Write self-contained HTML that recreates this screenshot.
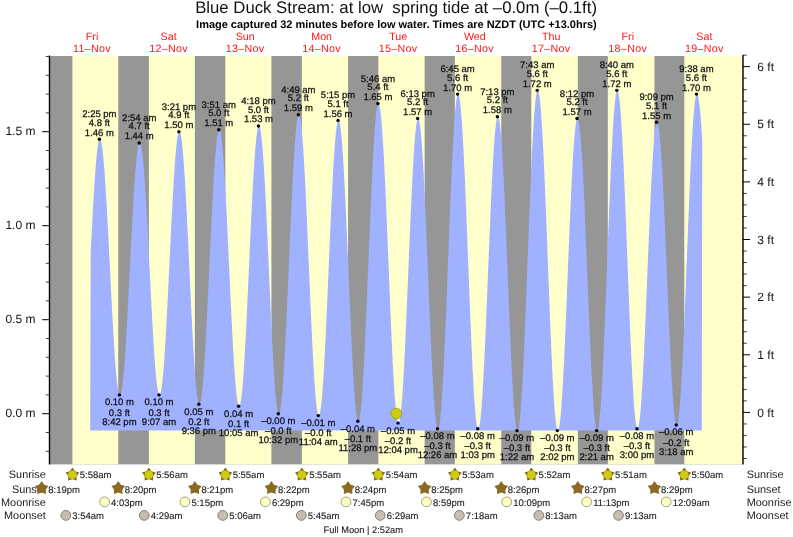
<!DOCTYPE html>
<html><head><meta charset="utf-8"><title>Blue Duck Stream tide times</title>
<style>
html,body{margin:0;padding:0;background:#fff;}
body{width:793px;height:537px;overflow:hidden;font-family:"Liberation Sans",sans-serif;}
svg{display:block;position:absolute;left:0;top:0;}
text{font-family:"Liberation Sans",sans-serif;text-rendering:geometricPrecision;}
svg{will-change:transform;opacity:0.9999;}
</style></head><body>
<svg width="793" height="537" viewBox="0 0 793 537">
<rect width="793" height="537" fill="#fff"/>
<rect x="50" y="56" width="692.3" height="408.4" fill="#969696"/>
<rect x="72.43" y="56" width="45.82" height="408.4" fill="#ffffcc"/>
<rect x="148.86" y="56" width="45.97" height="408.4" fill="#ffffcc"/>
<rect x="225.34" y="56" width="46.08" height="408.4" fill="#ffffcc"/>
<rect x="301.88" y="56" width="46.19" height="408.4" fill="#ffffcc"/>
<rect x="378.36" y="56" width="46.29" height="408.4" fill="#ffffcc"/>
<rect x="454.84" y="56" width="46.40" height="408.4" fill="#ffffcc"/>
<rect x="531.32" y="56" width="46.51" height="408.4" fill="#ffffcc"/>
<rect x="607.81" y="56" width="46.67" height="408.4" fill="#ffffcc"/>
<rect x="684.29" y="56" width="58.01" height="408.4" fill="#ffffcc"/>
<path d="M90.18,430.60 L90.68,253.29 L91.06,245.62 L91.44,238.03 L91.83,230.54 L92.21,223.18 L92.59,215.97 L92.97,208.95 L93.35,202.15 L93.74,195.58 L94.12,189.27 L94.50,183.25 L94.88,177.54 L95.27,172.16 L95.65,167.12 L96.03,162.46 L96.41,158.18 L96.79,154.31 L97.18,150.85 L97.56,147.82 L97.94,145.24 L98.32,143.11 L98.71,141.43 L99.09,140.22 L99.47,139.49 L99.85,139.22 L100.23,139.42 L100.62,140.08 L101.00,141.20 L101.38,142.77 L101.76,144.79 L102.15,147.24 L102.53,150.12 L102.91,153.43 L103.29,157.14 L103.67,161.25 L104.06,165.73 L104.44,170.59 L104.82,175.78 L105.20,181.31 L105.59,187.14 L105.97,193.26 L106.35,199.64 L106.73,206.27 L107.12,213.12 L107.50,220.15 L107.88,227.36 L108.26,234.71 L108.64,242.18 L109.03,249.73 L109.41,257.35 L109.79,265.00 L110.17,272.66 L110.56,280.30 L110.94,287.89 L111.32,295.41 L111.70,302.82 L112.08,310.11 L112.47,317.24 L112.85,324.20 L113.23,330.94 L113.61,337.46 L114.00,343.73 L114.38,349.72 L114.76,355.41 L115.14,360.78 L115.52,365.82 L115.91,370.51 L116.29,374.82 L116.67,378.75 L117.05,382.27 L117.44,385.38 L117.82,388.07 L118.20,390.32 L118.58,392.13 L118.96,393.49 L119.35,394.40 L119.73,394.85 L120.11,394.84 L120.49,394.36 L120.88,393.43 L121.26,392.03 L121.64,390.18 L122.02,387.89 L122.40,385.15 L122.79,381.99 L123.17,378.41 L123.55,374.42 L123.93,370.05 L124.32,365.30 L124.70,360.20 L125.08,354.76 L125.46,349.01 L125.84,342.96 L126.23,336.64 L126.61,330.06 L126.99,323.27 L127.37,316.27 L127.76,309.10 L128.14,301.78 L128.52,294.33 L128.90,286.80 L129.29,279.20 L129.67,271.56 L130.05,263.91 L130.43,256.28 L130.81,248.70 L131.20,241.19 L131.58,233.78 L131.96,226.50 L132.34,219.38 L132.73,212.45 L133.11,205.72 L133.49,199.22 L133.87,192.98 L134.25,187.02 L134.64,181.37 L135.02,176.03 L135.40,171.04 L135.78,166.41 L136.17,162.16 L136.55,158.30 L136.93,154.85 L137.31,151.82 L137.69,149.22 L138.08,147.07 L138.46,145.36 L138.84,144.11 L139.22,143.32 L139.61,142.99 L139.99,143.13 L140.37,143.72 L140.75,144.78 L141.13,146.29 L141.52,148.26 L141.90,150.66 L142.28,153.50 L142.66,156.76 L143.05,160.43 L143.43,164.51 L143.81,168.96 L144.19,173.78 L144.57,178.95 L144.96,184.45 L145.34,190.26 L145.72,196.36 L146.10,202.73 L146.49,209.34 L146.87,216.16 L147.25,223.18 L147.63,230.37 L148.01,237.70 L148.40,245.14 L148.78,252.68 L149.16,260.27 L149.54,267.89 L149.93,275.52 L150.31,283.12 L150.69,290.67 L151.07,298.14 L151.46,305.50 L151.84,312.73 L152.22,319.80 L152.60,326.68 L152.98,333.36 L153.37,339.79 L153.75,345.96 L154.13,351.86 L154.51,357.44 L154.90,362.71 L155.28,367.63 L155.66,372.18 L156.04,376.36 L156.42,380.15 L156.81,383.52 L157.19,386.48 L157.57,389.01 L157.95,391.09 L158.34,392.73 L158.72,393.91 L159.10,394.64 L159.48,394.90 L159.86,394.69 L160.25,394.01 L160.63,392.84 L161.01,391.21 L161.39,389.11 L161.78,386.55 L162.16,383.54 L162.54,380.09 L162.92,376.21 L163.30,371.92 L163.69,367.24 L164.07,362.18 L164.45,356.75 L164.83,350.99 L165.22,344.91 L165.60,338.52 L165.98,331.87 L166.36,324.96 L166.74,317.83 L167.13,310.50 L167.51,303.00 L167.89,295.35 L168.27,287.58 L168.66,279.73 L169.04,271.82 L169.42,263.87 L169.80,255.93 L170.18,248.01 L170.57,240.15 L170.95,232.37 L171.33,224.70 L171.71,217.17 L172.10,209.82 L172.48,202.66 L172.86,195.72 L173.24,189.02 L173.63,182.60 L174.01,176.47 L174.39,170.66 L174.77,165.18 L175.15,160.07 L175.54,155.33 L175.92,150.98 L176.30,147.05 L176.68,143.54 L177.07,140.46 L177.45,137.83 L177.83,135.67 L178.21,133.96 L178.59,132.73 L178.98,131.98 L179.36,131.70 L179.74,131.91 L180.12,132.62 L180.51,133.81 L180.89,135.49 L181.27,137.66 L181.65,140.29 L182.03,143.39 L182.42,146.95 L182.80,150.94 L183.18,155.35 L183.56,160.18 L183.95,165.40 L184.33,170.98 L184.71,176.93 L185.09,183.20 L185.47,189.78 L185.86,196.64 L186.24,203.76 L186.62,211.11 L187.00,218.68 L187.39,226.42 L187.77,234.31 L188.15,242.32 L188.53,250.43 L188.91,258.60 L189.30,266.80 L189.68,275.01 L190.06,283.20 L190.44,291.32 L190.83,299.37 L191.21,307.30 L191.59,315.08 L191.97,322.70 L192.35,330.12 L192.74,337.31 L193.12,344.25 L193.50,350.92 L193.88,357.28 L194.27,363.32 L194.65,369.01 L195.03,374.34 L195.41,379.28 L195.80,383.82 L196.18,387.93 L196.56,391.62 L196.94,394.85 L197.32,397.62 L197.71,399.92 L198.09,401.75 L198.47,403.09 L198.85,403.93 L199.24,404.29 L199.62,404.15 L200.00,403.51 L200.38,402.38 L200.76,400.75 L201.15,398.64 L201.53,396.05 L201.91,393.00 L202.29,389.49 L202.68,385.53 L203.06,381.14 L203.44,376.34 L203.82,371.15 L204.20,365.57 L204.59,359.64 L204.97,353.37 L205.35,346.79 L205.73,339.92 L206.12,332.78 L206.50,325.41 L206.88,317.83 L207.26,310.06 L207.64,302.13 L208.03,294.08 L208.41,285.93 L208.79,277.71 L209.17,269.45 L209.56,261.18 L209.94,252.94 L210.32,244.74 L210.70,236.63 L211.08,228.63 L211.47,220.76 L211.85,213.07 L212.23,205.57 L212.61,198.29 L213.00,191.27 L213.38,184.51 L213.76,178.06 L214.14,171.93 L214.52,166.15 L214.91,160.73 L215.29,155.70 L215.67,151.07 L216.05,146.87 L216.44,143.09 L216.82,139.77 L217.20,136.92 L217.58,134.53 L217.97,132.62 L218.35,131.21 L218.73,130.28 L219.11,129.85 L219.49,129.92 L219.88,130.50 L220.26,131.57 L220.64,133.15 L221.02,135.21 L221.41,137.76 L221.79,140.79 L222.17,144.28 L222.55,148.22 L222.93,152.59 L223.32,157.39 L223.70,162.60 L224.08,168.18 L224.46,174.13 L224.85,180.43 L225.23,187.04 L225.61,193.95 L225.99,201.13 L226.37,208.55 L226.76,216.19 L227.14,224.02 L227.52,232.00 L227.90,240.12 L228.29,248.35 L228.67,256.64 L229.05,264.97 L229.43,273.32 L229.81,281.65 L230.20,289.92 L230.58,298.12 L230.96,306.21 L231.34,314.16 L231.73,321.93 L232.11,329.52 L232.49,336.87 L232.87,343.98 L233.25,350.81 L233.64,357.34 L234.02,363.54 L234.40,369.39 L234.78,374.88 L235.17,379.97 L235.55,384.65 L235.93,388.91 L236.31,392.73 L236.69,396.09 L237.08,398.99 L237.46,401.40 L237.84,403.34 L238.22,404.77 L238.61,405.71 L238.99,406.15 L239.37,406.08 L239.75,405.49 L240.14,404.40 L240.52,402.80 L240.90,400.69 L241.28,398.10 L241.66,395.02 L242.05,391.46 L242.43,387.45 L242.81,382.99 L243.19,378.11 L243.58,372.81 L243.96,367.12 L244.34,361.06 L244.72,354.65 L245.10,347.92 L245.49,340.89 L245.87,333.58 L246.25,326.03 L246.63,318.26 L247.02,310.29 L247.40,302.16 L247.78,293.90 L248.16,285.54 L248.54,277.11 L248.93,268.64 L249.31,260.16 L249.69,251.70 L250.07,243.29 L250.46,234.97 L250.84,226.76 L251.22,218.69 L251.60,210.80 L251.98,203.11 L252.37,195.66 L252.75,188.46 L253.13,181.55 L253.51,174.94 L253.90,168.67 L254.28,162.76 L254.66,157.23 L255.04,152.10 L255.42,147.38 L255.81,143.10 L256.19,139.28 L256.57,135.91 L256.95,133.03 L257.34,130.63 L257.72,128.73 L258.10,127.34 L258.48,126.45 L258.87,126.07 L259.25,126.22 L259.63,126.88 L260.01,128.07 L260.39,129.77 L260.78,131.99 L261.16,134.71 L261.54,137.92 L261.92,141.62 L262.31,145.78 L262.69,150.39 L263.07,155.44 L263.45,160.91 L263.83,166.78 L264.22,173.02 L264.60,179.62 L264.98,186.54 L265.36,193.77 L265.75,201.27 L266.13,209.03 L266.51,217.01 L266.89,225.18 L267.27,233.52 L267.66,241.98 L268.04,250.55 L268.42,259.19 L268.80,267.87 L269.19,276.55 L269.57,285.22 L269.95,293.82 L270.33,302.34 L270.71,310.74 L271.10,318.99 L271.48,327.06 L271.86,334.92 L272.24,342.55 L272.63,349.91 L273.01,356.98 L273.39,363.73 L273.77,370.14 L274.15,376.18 L274.54,381.84 L274.92,387.08 L275.30,391.90 L275.68,396.27 L276.07,400.19 L276.45,403.62 L276.83,406.57 L277.21,409.02 L277.59,410.96 L277.98,412.39 L278.36,413.30 L278.74,413.69 L279.12,413.54 L279.51,412.86 L279.89,411.65 L280.27,409.91 L280.65,407.64 L281.04,404.86 L281.42,401.58 L281.80,397.80 L282.18,393.54 L282.56,388.82 L282.95,383.65 L283.33,378.05 L283.71,372.05 L284.09,365.65 L284.48,358.90 L284.86,351.80 L285.24,344.39 L285.62,336.69 L286.00,328.73 L286.39,320.54 L286.77,312.14 L287.15,303.58 L287.53,294.87 L287.92,286.05 L288.30,277.16 L288.68,268.22 L289.06,259.26 L289.44,250.32 L289.83,241.44 L290.21,232.63 L290.59,223.94 L290.97,215.39 L291.36,207.02 L291.74,198.85 L292.12,190.92 L292.50,183.25 L292.88,175.87 L293.27,168.81 L293.65,162.09 L294.03,155.74 L294.41,149.78 L294.80,144.23 L295.18,139.11 L295.56,134.44 L295.94,130.23 L296.32,126.51 L296.71,123.28 L297.09,120.56 L297.47,118.35 L297.85,116.67 L298.24,115.51 L298.62,114.90 L299.00,114.81 L299.38,115.27 L299.76,116.28 L300.15,117.82 L300.53,119.91 L300.91,122.51 L301.29,125.64 L301.68,129.27 L302.06,133.39 L302.44,138.00 L302.82,143.06 L303.21,148.57 L303.59,154.50 L303.97,160.83 L304.35,167.54 L304.73,174.61 L305.12,182.00 L305.50,189.70 L305.88,197.67 L306.26,205.89 L306.65,214.32 L307.03,222.93 L307.41,231.70 L307.79,240.59 L308.17,249.57 L308.56,258.60 L308.94,267.66 L309.32,276.71 L309.70,285.72 L310.09,294.65 L310.47,303.48 L310.85,312.17 L311.23,320.69 L311.61,329.00 L312.00,337.09 L312.38,344.91 L312.76,352.44 L313.14,359.66 L313.53,366.54 L313.91,373.04 L314.29,379.16 L314.67,384.86 L315.05,390.13 L315.44,394.94 L315.82,399.28 L316.20,403.14 L316.58,406.50 L316.97,409.34 L317.35,411.66 L317.73,413.45 L318.11,414.70 L318.49,415.41 L318.88,415.57 L319.26,415.18 L319.64,414.25 L320.02,412.78 L320.41,410.77 L320.79,408.24 L321.17,405.18 L321.55,401.61 L321.93,397.55 L322.32,393.01 L322.70,388.00 L323.08,382.55 L323.46,376.67 L323.85,370.40 L324.23,363.74 L324.61,356.72 L324.99,349.38 L325.38,341.74 L325.76,333.82 L326.14,325.66 L326.52,317.29 L326.90,308.73 L327.29,300.02 L327.67,291.19 L328.05,282.28 L328.43,273.31 L328.82,264.33 L329.20,255.35 L329.58,246.43 L329.96,237.58 L330.34,228.85 L330.73,220.26 L331.11,211.85 L331.49,203.65 L331.87,195.69 L332.26,187.99 L332.64,180.59 L333.02,173.52 L333.40,166.79 L333.78,160.44 L334.17,154.49 L334.55,148.96 L334.93,143.87 L335.31,139.24 L335.70,135.09 L336.08,131.44 L336.46,128.28 L336.84,125.65 L337.22,123.54 L337.61,121.97 L337.99,120.94 L338.37,120.46 L338.75,120.52 L339.14,121.14 L339.52,122.30 L339.90,124.01 L340.28,126.26 L340.66,129.04 L341.05,132.33 L341.43,136.14 L341.81,140.44 L342.19,145.22 L342.58,150.45 L342.96,156.13 L343.34,162.24 L343.72,168.73 L344.10,175.61 L344.49,182.83 L344.87,190.37 L345.25,198.21 L345.63,206.32 L346.02,214.66 L346.40,223.21 L346.78,231.94 L347.16,240.80 L347.55,249.78 L347.93,258.83 L348.31,267.93 L348.69,277.04 L349.07,286.12 L349.46,295.15 L349.84,304.09 L350.22,312.91 L350.60,321.58 L350.99,330.05 L351.37,338.31 L351.75,346.33 L352.13,354.06 L352.51,361.49 L352.90,368.59 L353.28,375.33 L353.66,381.68 L354.04,387.63 L354.43,393.15 L354.81,398.23 L355.19,402.83 L355.57,406.95 L355.95,410.57 L356.34,413.68 L356.72,416.26 L357.10,418.32 L357.48,419.83 L357.87,420.79 L358.25,421.20 L358.63,421.06 L359.01,420.35 L359.39,419.08 L359.78,417.25 L360.16,414.86 L360.54,411.93 L360.92,408.46 L361.31,404.48 L361.69,399.98 L362.07,395.00 L362.45,389.54 L362.83,383.62 L363.22,377.28 L363.60,370.52 L363.98,363.38 L364.36,355.87 L364.75,348.03 L365.13,339.89 L365.51,331.47 L365.89,322.80 L366.27,313.92 L366.66,304.85 L367.04,295.63 L367.42,286.29 L367.80,276.86 L368.19,267.39 L368.57,257.90 L368.95,248.42 L369.33,238.99 L369.72,229.64 L370.10,220.42 L370.48,211.34 L370.86,202.44 L371.24,193.76 L371.63,185.32 L372.01,177.16 L372.39,169.31 L372.77,161.78 L373.16,154.61 L373.54,147.83 L373.92,141.46 L374.30,135.52 L374.68,130.03 L375.07,125.02 L375.45,120.50 L375.83,116.48 L376.21,112.98 L376.60,110.02 L376.98,107.60 L377.36,105.74 L377.74,104.43 L378.12,103.69 L378.51,103.51 L378.89,103.90 L379.27,104.87 L379.65,106.40 L380.04,108.49 L380.42,111.13 L380.80,114.31 L381.18,118.03 L381.56,122.27 L381.95,127.01 L382.33,132.24 L382.71,137.93 L383.09,144.07 L383.48,150.64 L383.86,157.61 L384.24,164.96 L384.62,172.66 L385.00,180.69 L385.39,189.01 L385.77,197.59 L386.15,206.41 L386.53,215.43 L386.92,224.62 L387.30,233.95 L387.68,243.39 L388.06,252.90 L388.44,262.44 L388.83,271.99 L389.21,281.50 L389.59,290.96 L389.97,300.31 L390.36,309.53 L390.74,318.58 L391.12,327.44 L391.50,336.07 L391.89,344.44 L392.27,352.52 L392.65,360.28 L393.03,367.69 L393.41,374.73 L393.80,381.37 L394.18,387.60 L394.56,393.37 L394.94,398.69 L395.33,403.52 L395.71,407.84 L396.09,411.66 L396.47,414.94 L396.85,417.68 L397.24,419.87 L397.62,421.50 L398.00,422.56 L398.38,423.06 L398.77,422.99 L399.15,422.34 L399.53,421.13 L399.91,419.35 L400.29,417.02 L400.68,414.14 L401.06,410.72 L401.44,406.78 L401.82,402.33 L402.21,397.39 L402.59,391.97 L402.97,386.10 L403.35,379.79 L403.73,373.08 L404.12,365.98 L404.50,358.53 L404.88,350.75 L405.26,342.67 L405.65,334.31 L406.03,325.73 L406.41,316.93 L406.79,307.97 L407.17,298.86 L407.56,289.65 L407.94,280.37 L408.32,271.05 L408.70,261.73 L409.09,252.44 L409.47,243.23 L409.85,234.12 L410.23,225.14 L410.61,216.34 L411.00,207.74 L411.38,199.38 L411.76,191.28 L412.14,183.48 L412.53,176.01 L412.91,168.90 L413.29,162.17 L413.67,155.84 L414.06,149.95 L414.44,144.51 L414.82,139.54 L415.20,135.06 L415.58,131.10 L415.97,127.65 L416.35,124.75 L416.73,122.39 L417.11,120.58 L417.50,119.34 L417.88,118.67 L418.26,118.57 L418.64,119.04 L419.02,120.07 L419.41,121.67 L419.79,123.82 L420.17,126.53 L420.55,129.77 L420.94,133.54 L421.32,137.83 L421.70,142.61 L422.08,147.88 L422.46,153.60 L422.85,159.77 L423.23,166.35 L423.61,173.33 L423.99,180.67 L424.38,188.36 L424.76,196.36 L425.14,204.64 L425.52,213.17 L425.90,221.93 L426.29,230.88 L426.67,239.98 L427.05,249.21 L427.43,258.53 L427.82,267.90 L428.20,277.29 L428.58,286.67 L428.96,296.00 L429.34,305.25 L429.73,314.39 L430.11,323.37 L430.49,332.17 L430.87,340.76 L431.26,349.10 L431.64,357.17 L432.02,364.92 L432.40,372.35 L432.78,379.41 L433.17,386.08 L433.55,392.34 L433.93,398.17 L434.31,403.54 L434.70,408.43 L435.08,412.83 L435.46,416.71 L435.84,420.08 L436.23,422.90 L436.61,425.18 L436.99,426.90 L437.37,428.06 L437.75,428.66 L438.14,428.68 L438.52,428.11 L438.90,426.95 L439.28,425.20 L439.67,422.87 L440.05,419.97 L440.43,416.50 L440.81,412.48 L441.19,407.93 L441.58,402.85 L441.96,397.27 L442.34,391.21 L442.72,384.69 L443.11,377.73 L443.49,370.36 L443.87,362.60 L444.25,354.48 L444.63,346.03 L445.02,337.28 L445.40,328.26 L445.78,319.00 L446.16,309.54 L446.55,299.91 L446.93,290.14 L447.31,280.27 L447.69,270.33 L448.07,260.36 L448.46,250.39 L448.84,240.46 L449.22,230.61 L449.60,220.87 L449.99,211.27 L450.37,201.85 L450.75,192.64 L451.13,183.67 L451.51,174.98 L451.90,166.60 L452.28,158.56 L452.66,150.88 L453.04,143.59 L453.43,136.72 L453.81,130.30 L454.19,124.34 L454.57,118.86 L454.95,113.90 L455.34,109.46 L455.72,105.55 L456.10,102.21 L456.48,99.42 L456.87,97.22 L457.25,95.59 L457.63,94.56 L458.01,94.12 L458.40,94.27 L458.78,95.02 L459.16,96.37 L459.54,98.30 L459.92,100.82 L460.31,103.91 L460.69,107.56 L461.07,111.76 L461.45,116.50 L461.84,121.76 L462.22,127.51 L462.60,133.74 L462.98,140.43 L463.36,147.55 L463.75,155.08 L464.13,162.98 L464.51,171.24 L464.89,179.82 L465.28,188.69 L465.66,197.82 L466.04,207.18 L466.42,216.73 L466.80,226.44 L467.19,236.28 L467.57,246.21 L467.95,256.19 L468.33,266.19 L468.72,276.17 L469.10,286.10 L469.48,295.94 L469.86,305.66 L470.24,315.22 L470.63,324.59 L471.01,333.73 L471.39,342.61 L471.77,351.21 L472.16,359.48 L472.54,367.41 L472.92,374.95 L473.30,382.09 L473.68,388.80 L474.07,395.05 L474.45,400.83 L474.83,406.11 L475.21,410.87 L475.60,415.10 L475.98,418.77 L476.36,421.89 L476.74,424.44 L477.12,426.40 L477.51,427.77 L477.89,428.55 L478.27,428.73 L478.65,428.32 L479.04,427.34 L479.42,425.78 L479.80,423.64 L480.18,420.95 L480.57,417.70 L480.95,413.91 L481.33,409.60 L481.71,404.77 L482.09,399.46 L482.48,393.67 L482.86,387.43 L483.24,380.76 L483.62,373.69 L484.01,366.24 L484.39,358.44 L484.77,350.33 L485.15,341.92 L485.53,333.26 L485.92,324.37 L486.30,315.29 L486.68,306.05 L487.06,296.68 L487.45,287.23 L487.83,277.72 L488.21,268.20 L488.59,258.69 L488.97,249.23 L489.36,239.86 L489.74,230.61 L490.12,221.52 L490.50,212.62 L490.89,203.94 L491.27,195.52 L491.65,187.39 L492.03,179.58 L492.41,172.11 L492.80,165.02 L493.18,158.33 L493.56,152.06 L493.94,146.25 L494.33,140.90 L494.71,136.05 L495.09,131.71 L495.47,127.89 L495.85,124.61 L496.24,121.89 L496.62,119.72 L497.00,118.13 L497.38,117.12 L497.77,116.68 L498.15,116.82 L498.53,117.56 L498.91,118.88 L499.29,120.78 L499.68,123.25 L500.06,126.29 L500.44,129.87 L500.82,134.00 L501.21,138.65 L501.59,143.81 L501.97,149.45 L502.35,155.56 L502.74,162.11 L503.12,169.08 L503.50,176.44 L503.88,184.16 L504.26,192.22 L504.65,200.59 L505.03,209.23 L505.41,218.11 L505.79,227.19 L506.18,236.46 L506.56,245.86 L506.94,255.37 L507.32,264.94 L507.70,274.55 L508.09,284.15 L508.47,293.72 L508.85,303.21 L509.23,312.58 L509.62,321.82 L510.00,330.87 L510.38,339.71 L510.76,348.30 L511.14,356.61 L511.53,364.60 L511.91,372.26 L512.29,379.55 L512.67,386.44 L513.06,392.91 L513.44,398.93 L513.82,404.49 L514.20,409.55 L514.58,414.10 L514.97,418.13 L515.35,421.61 L515.73,424.54 L516.11,426.91 L516.50,428.70 L516.88,429.90 L517.26,430.53 L517.64,430.56 L518.02,430.00 L518.41,428.84 L518.79,427.09 L519.17,424.76 L519.55,421.84 L519.94,418.36 L520.32,414.33 L520.70,409.75 L521.08,404.65 L521.46,399.04 L521.85,392.95 L522.23,386.39 L522.61,379.38 L522.99,371.96 L523.38,364.15 L523.76,355.97 L524.14,347.46 L524.52,338.64 L524.91,329.54 L525.29,320.21 L525.67,310.66 L526.05,300.94 L526.43,291.07 L526.82,281.10 L527.20,271.05 L527.58,260.97 L527.96,250.89 L528.35,240.84 L528.73,230.85 L529.11,220.98 L529.49,211.24 L529.87,201.67 L530.26,192.31 L530.64,183.20 L531.02,174.35 L531.40,165.80 L531.79,157.59 L532.17,149.74 L532.55,142.28 L532.93,135.24 L533.31,128.63 L533.70,122.49 L534.08,116.83 L534.46,111.68 L534.84,107.05 L535.23,102.97 L535.61,99.43 L535.99,96.46 L536.37,94.07 L536.75,92.26 L537.14,91.05 L537.52,90.43 L537.90,90.40 L538.28,90.99 L538.67,92.17 L539.05,93.95 L539.43,96.33 L539.81,99.28 L540.19,102.81 L540.58,106.90 L540.96,111.54 L541.34,116.70 L541.72,122.38 L542.11,128.54 L542.49,135.18 L542.87,142.26 L543.25,149.75 L543.63,157.65 L544.02,165.91 L544.40,174.50 L544.78,183.40 L545.16,192.57 L545.55,201.99 L545.93,211.61 L546.31,221.41 L546.69,231.34 L547.08,241.38 L547.46,251.49 L547.84,261.63 L548.22,271.76 L548.60,281.86 L548.99,291.87 L549.37,301.78 L549.75,311.54 L550.13,321.12 L550.52,330.48 L550.90,339.60 L551.28,348.43 L551.66,356.95 L552.04,365.13 L552.43,372.94 L552.81,380.34 L553.19,387.32 L553.57,393.85 L553.96,399.91 L554.34,405.47 L554.72,410.52 L555.10,415.03 L555.48,419.00 L555.87,422.40 L556.25,425.22 L556.63,427.46 L557.01,429.11 L557.40,430.16 L557.78,430.60 L558.16,430.45 L558.54,429.72 L558.92,428.40 L559.31,426.52 L559.69,424.07 L560.07,421.06 L560.45,417.50 L560.84,413.41 L561.22,408.81 L561.60,403.70 L561.98,398.11 L562.36,392.06 L562.75,385.58 L563.13,378.68 L563.51,371.39 L563.89,363.74 L564.28,355.76 L564.66,347.48 L565.04,338.92 L565.42,330.13 L565.80,321.13 L566.19,311.95 L566.57,302.64 L566.95,293.22 L567.33,283.73 L567.72,274.20 L568.10,264.68 L568.48,255.20 L568.86,245.78 L569.25,236.48 L569.63,227.32 L570.01,218.33 L570.39,209.55 L570.77,201.02 L571.16,192.76 L571.54,184.80 L571.92,177.18 L572.30,169.92 L572.69,163.05 L573.07,156.60 L573.45,150.59 L573.83,145.04 L574.21,139.97 L574.60,135.41 L574.98,131.36 L575.36,127.85 L575.74,124.88 L576.13,122.47 L576.51,120.63 L576.89,119.36 L577.27,118.68 L577.65,118.57 L578.04,119.05 L578.42,120.11 L578.80,121.74 L579.18,123.96 L579.57,126.73 L579.95,130.06 L580.33,133.93 L580.71,138.33 L581.09,143.24 L581.48,148.64 L581.86,154.52 L582.24,160.84 L582.62,167.59 L583.01,174.74 L583.39,182.27 L583.77,190.14 L584.15,198.33 L584.53,206.80 L584.92,215.53 L585.30,224.48 L585.68,233.61 L586.06,242.90 L586.45,252.31 L586.83,261.80 L587.21,271.34 L587.59,280.90 L587.97,290.42 L588.36,299.89 L588.74,309.27 L589.12,318.51 L589.50,327.59 L589.89,336.47 L590.27,345.12 L590.65,353.51 L591.03,361.59 L591.42,369.36 L591.80,376.77 L592.18,383.79 L592.56,390.40 L592.94,396.59 L593.33,402.31 L593.71,407.56 L594.09,412.30 L594.47,416.53 L594.86,420.23 L595.24,423.38 L595.62,425.98 L596.00,428.01 L596.38,429.46 L596.77,430.33 L597.15,430.62 L597.53,430.31 L597.91,429.40 L598.30,427.89 L598.68,425.79 L599.06,423.10 L599.44,419.83 L599.82,415.99 L600.21,411.60 L600.59,406.68 L600.97,401.23 L601.35,395.29 L601.74,388.87 L602.12,381.99 L602.50,374.67 L602.88,366.96 L603.26,358.86 L603.65,350.42 L604.03,341.65 L604.41,332.60 L604.79,323.29 L605.18,313.76 L605.56,304.04 L605.94,294.16 L606.32,284.17 L606.70,274.09 L607.09,263.96 L607.47,253.82 L607.85,243.70 L608.23,233.64 L608.62,223.68 L609.00,213.85 L609.38,204.18 L609.76,194.72 L610.14,185.49 L610.53,176.52 L610.91,167.85 L611.29,159.51 L611.67,151.53 L612.06,143.94 L612.44,136.76 L612.82,130.02 L613.20,123.75 L613.59,117.96 L613.97,112.68 L614.35,107.92 L614.73,103.70 L615.11,100.04 L615.50,96.95 L615.88,94.45 L616.26,92.53 L616.64,91.21 L617.03,90.48 L617.41,90.37 L617.79,90.85 L618.17,91.93 L618.55,93.60 L618.94,95.86 L619.32,98.69 L619.70,102.10 L620.08,106.06 L620.47,110.56 L620.85,115.59 L621.23,121.13 L621.61,127.16 L621.99,133.66 L622.38,140.60 L622.76,147.96 L623.14,155.71 L623.52,163.83 L623.91,172.29 L624.29,181.06 L624.67,190.11 L625.05,199.40 L625.43,208.90 L625.82,218.59 L626.20,228.41 L626.58,238.35 L626.96,248.36 L627.35,258.42 L627.73,268.47 L628.11,278.50 L628.49,288.45 L628.87,298.31 L629.26,308.03 L629.64,317.57 L630.02,326.92 L630.40,336.02 L630.79,344.85 L631.17,353.38 L631.55,361.58 L631.93,369.42 L632.31,376.88 L632.70,383.91 L633.08,390.51 L633.46,396.64 L633.84,402.29 L634.23,407.44 L634.61,412.06 L634.99,416.14 L635.37,419.67 L635.76,422.64 L636.14,425.03 L636.52,426.83 L636.90,428.04 L637.28,428.66 L637.67,428.68 L638.05,428.12 L638.43,426.99 L638.81,425.30 L639.20,423.04 L639.58,420.23 L639.96,416.88 L640.34,412.99 L640.72,408.60 L641.11,403.70 L641.49,398.32 L641.87,392.49 L642.25,386.21 L642.64,379.52 L643.02,372.44 L643.40,365.00 L643.78,357.22 L644.16,349.14 L644.55,340.77 L644.93,332.17 L645.31,323.35 L645.69,314.36 L646.08,305.21 L646.46,295.96 L646.84,286.63 L647.22,277.26 L647.60,267.88 L647.99,258.53 L648.37,249.24 L648.75,240.06 L649.13,231.00 L649.52,222.11 L649.90,213.43 L650.28,204.97 L650.66,196.78 L651.04,188.89 L651.43,181.31 L651.81,174.10 L652.19,167.26 L652.57,160.83 L652.96,154.83 L653.34,149.28 L653.72,144.20 L654.10,139.62 L654.48,135.54 L654.87,131.99 L655.25,128.98 L655.63,126.51 L656.01,124.61 L656.40,123.27 L656.78,122.50 L657.16,122.31 L657.54,122.68 L657.93,123.62 L658.31,125.12 L658.69,127.18 L659.07,129.79 L659.45,132.94 L659.84,136.61 L660.22,140.80 L660.60,145.49 L660.98,150.65 L661.37,156.28 L661.75,162.35 L662.13,168.83 L662.51,175.71 L662.89,182.95 L663.28,190.54 L663.66,198.43 L664.04,206.61 L664.42,215.04 L664.81,223.69 L665.19,232.52 L665.57,241.51 L665.95,250.62 L666.33,259.82 L666.72,269.06 L667.10,278.33 L667.48,287.58 L667.86,296.77 L668.25,305.88 L668.63,314.87 L669.01,323.70 L669.39,332.35 L669.77,340.77 L670.16,348.94 L670.54,356.84 L670.92,364.42 L671.30,371.66 L671.69,378.53 L672.07,385.01 L672.45,391.07 L672.83,396.69 L673.21,401.85 L673.60,406.53 L673.98,410.71 L674.36,414.38 L674.74,417.52 L675.13,420.12 L675.51,422.18 L675.89,423.67 L676.27,424.61 L676.65,424.97 L677.04,424.77 L677.42,423.98 L677.80,422.61 L678.18,420.66 L678.57,418.14 L678.95,415.07 L679.33,411.44 L679.71,407.28 L680.10,402.59 L680.48,397.40 L680.86,391.72 L681.24,385.58 L681.62,378.99 L682.01,371.97 L682.39,364.56 L682.77,356.78 L683.15,348.66 L683.54,340.22 L683.92,331.49 L684.30,322.51 L684.68,313.31 L685.06,303.92 L685.45,294.37 L685.83,284.70 L686.21,274.94 L686.59,265.12 L686.98,255.29 L687.36,245.47 L687.74,235.70 L688.12,226.01 L688.50,216.44 L688.89,207.03 L689.27,197.80 L689.65,188.79 L690.03,180.03 L690.42,171.55 L690.80,163.38 L691.18,155.55 L691.56,148.08 L691.94,141.02 L692.33,134.37 L692.71,128.16 L693.09,122.42 L693.47,117.16 L693.86,112.41 L694.24,108.17 L694.62,104.47 L695.00,101.32 L695.38,98.73 L695.77,96.70 L696.15,95.25 L696.53,94.38 L696.91,94.10 L697.30,94.36 L697.68,95.11 L698.06,96.37 L698.44,98.11 L698.82,100.35 L699.21,103.06 L699.59,106.25 L699.97,109.91 L700.35,114.01 L700.74,118.56 L701.12,123.53 L701.50,128.92 L701.88,134.70 L702.27,140.86 L701.77,430.60Z" fill="#9fb1ff"/>
<g stroke="#000" stroke-width="1.4" fill="none">
<path d="M49.5,55.5 V464.6"/>
<path d="M743,55 V464.6"/>
</g><g stroke="#000" stroke-width="1" fill="none">
<path d="M45.8,451.30 H49.5" stroke-width="0.75"/>
<path d="M45.8,432.50 H49.5" stroke-width="0.75"/>
<path d="M42.2,413.70 H49.5"/>
<path d="M45.8,394.90 H49.5" stroke-width="0.75"/>
<path d="M45.8,376.10 H49.5" stroke-width="0.75"/>
<path d="M45.8,357.30 H49.5" stroke-width="0.75"/>
<path d="M45.8,338.50 H49.5" stroke-width="0.75"/>
<path d="M42.2,319.70 H49.5"/>
<path d="M45.8,300.90 H49.5" stroke-width="0.75"/>
<path d="M45.8,282.10 H49.5" stroke-width="0.75"/>
<path d="M45.8,263.30 H49.5" stroke-width="0.75"/>
<path d="M45.8,244.50 H49.5" stroke-width="0.75"/>
<path d="M42.2,225.70 H49.5"/>
<path d="M45.8,206.90 H49.5" stroke-width="0.75"/>
<path d="M45.8,188.10 H49.5" stroke-width="0.75"/>
<path d="M45.8,169.30 H49.5" stroke-width="0.75"/>
<path d="M45.8,150.50 H49.5" stroke-width="0.75"/>
<path d="M42.2,131.70 H49.5"/>
<path d="M45.8,112.90 H49.5" stroke-width="0.75"/>
<path d="M45.8,94.10 H49.5" stroke-width="0.75"/>
<path d="M45.8,75.30 H49.5" stroke-width="0.75"/>
<path d="M45.8,56.50 H49.5" stroke-width="0.75"/>
<path d="M743,458.50 H746.8" stroke-width="0.75"/>
<path d="M743,446.98 H746.8" stroke-width="0.75"/>
<path d="M743,435.45 H746.8" stroke-width="0.75"/>
<path d="M743,423.93 H746.8" stroke-width="0.75"/>
<path d="M743,412.40 H750"/>
<path d="M743,400.87 H746.8" stroke-width="0.75"/>
<path d="M743,389.35 H746.8" stroke-width="0.75"/>
<path d="M743,377.82 H746.8" stroke-width="0.75"/>
<path d="M743,366.30 H746.8" stroke-width="0.75"/>
<path d="M743,354.77 H750"/>
<path d="M743,343.24 H746.8" stroke-width="0.75"/>
<path d="M743,331.72 H746.8" stroke-width="0.75"/>
<path d="M743,320.19 H746.8" stroke-width="0.75"/>
<path d="M743,308.67 H746.8" stroke-width="0.75"/>
<path d="M743,297.14 H750"/>
<path d="M743,285.61 H746.8" stroke-width="0.75"/>
<path d="M743,274.09 H746.8" stroke-width="0.75"/>
<path d="M743,262.56 H746.8" stroke-width="0.75"/>
<path d="M743,251.04 H746.8" stroke-width="0.75"/>
<path d="M743,239.51 H750"/>
<path d="M743,227.98 H746.8" stroke-width="0.75"/>
<path d="M743,216.46 H746.8" stroke-width="0.75"/>
<path d="M743,204.93 H746.8" stroke-width="0.75"/>
<path d="M743,193.41 H746.8" stroke-width="0.75"/>
<path d="M743,181.88 H750"/>
<path d="M743,170.35 H746.8" stroke-width="0.75"/>
<path d="M743,158.83 H746.8" stroke-width="0.75"/>
<path d="M743,147.30 H746.8" stroke-width="0.75"/>
<path d="M743,135.78 H746.8" stroke-width="0.75"/>
<path d="M743,124.25 H750"/>
<path d="M743,112.72 H746.8" stroke-width="0.75"/>
<path d="M743,101.20 H746.8" stroke-width="0.75"/>
<path d="M743,89.67 H746.8" stroke-width="0.75"/>
<path d="M743,78.15 H746.8" stroke-width="0.75"/>
<path d="M743,66.62 H750"/>
<path d="M743,55.09 H746.8" stroke-width="0.75"/>
</g>
<circle cx="99.37" cy="139.22" r="1.7" fill="#000"/>
<circle cx="139.18" cy="142.98" r="1.7" fill="#000"/>
<circle cx="178.89" cy="131.70" r="1.7" fill="#000"/>
<circle cx="218.75" cy="129.82" r="1.7" fill="#000"/>
<circle cx="258.45" cy="126.06" r="1.7" fill="#000"/>
<circle cx="298.37" cy="114.78" r="1.7" fill="#000"/>
<circle cx="338.02" cy="120.42" r="1.7" fill="#000"/>
<circle cx="377.93" cy="103.50" r="1.7" fill="#000"/>
<circle cx="417.64" cy="118.54" r="1.7" fill="#000"/>
<circle cx="457.61" cy="94.10" r="1.7" fill="#000"/>
<circle cx="497.36" cy="116.66" r="1.7" fill="#000"/>
<circle cx="537.22" cy="90.34" r="1.7" fill="#000"/>
<circle cx="577.03" cy="118.54" r="1.7" fill="#000"/>
<circle cx="616.79" cy="90.34" r="1.7" fill="#000"/>
<circle cx="656.60" cy="122.30" r="1.7" fill="#000"/>
<circle cx="696.41" cy="94.10" r="1.7" fill="#000"/>
<circle cx="119.41" cy="394.90" r="1.7" fill="#000"/>
<circle cx="159.01" cy="394.90" r="1.7" fill="#000"/>
<circle cx="198.82" cy="404.30" r="1.7" fill="#000"/>
<circle cx="238.63" cy="406.18" r="1.7" fill="#000"/>
<circle cx="278.33" cy="413.70" r="1.7" fill="#000"/>
<circle cx="318.30" cy="415.58" r="1.7" fill="#000"/>
<circle cx="357.84" cy="421.22" r="1.7" fill="#000"/>
<circle cx="398.02" cy="423.10" r="1.7" fill="#000"/>
<circle cx="437.46" cy="428.74" r="1.7" fill="#000"/>
<circle cx="477.70" cy="428.74" r="1.7" fill="#000"/>
<circle cx="516.97" cy="430.62" r="1.7" fill="#000"/>
<circle cx="557.37" cy="430.62" r="1.7" fill="#000"/>
<circle cx="596.65" cy="430.62" r="1.7" fill="#000"/>
<circle cx="636.99" cy="428.74" r="1.7" fill="#000"/>
<circle cx="676.21" cy="424.98" r="1.7" fill="#000"/>
<circle cx="396.3" cy="413.6" r="5.4" fill="#cccc11" stroke="#8a8a00" stroke-width="0.6"/>
<text x="45.8" y="478.4" font-size="10.9" text-anchor="end" fill="#222">Sunrise</text>
<text x="746.7" y="478.4" font-size="10.9" text-anchor="start" fill="#222">Sunrise</text>
<text x="45.8" y="492.5" font-size="10.9" text-anchor="end" fill="#222">Sunset</text>
<text x="746.7" y="492.5" font-size="10.9" text-anchor="start" fill="#222">Sunset</text>
<text x="45.8" y="506" font-size="10.9" text-anchor="end" fill="#222">Moonrise</text>
<text x="746.7" y="506" font-size="10.9" text-anchor="start" fill="#222">Moonrise</text>
<text x="45.8" y="519.2" font-size="10.9" text-anchor="end" fill="#222">Moonset</text>
<text x="746.7" y="519.2" font-size="10.9" text-anchor="start" fill="#222">Moonset</text>
<polygon points="72.43,467.60 75.01,471.24 79.28,472.58 76.61,476.16 76.66,480.62 72.43,479.20 68.20,480.62 68.24,476.16 65.58,472.58 69.84,471.24" fill="#8b6914"/><circle cx="72.43" cy="474.80" r="4.3" fill="#cccc11"/>
<polygon points="148.86,467.60 151.44,471.24 155.71,472.58 153.04,476.16 153.09,480.62 148.86,479.20 144.63,480.62 144.67,476.16 142.01,472.58 146.27,471.24" fill="#8b6914"/><circle cx="148.86" cy="474.80" r="4.3" fill="#cccc11"/>
<polygon points="225.34,467.60 227.93,471.24 232.19,472.58 229.52,476.16 229.57,480.62 225.34,479.20 221.11,480.62 221.16,476.16 218.49,472.58 222.75,471.24" fill="#8b6914"/><circle cx="225.34" cy="474.80" r="4.3" fill="#cccc11"/>
<polygon points="301.88,467.60 304.46,471.24 308.72,472.58 306.06,476.16 306.11,480.62 301.88,479.20 297.64,480.62 297.69,476.16 295.03,472.58 299.29,471.24" fill="#8b6914"/><circle cx="301.88" cy="474.80" r="4.3" fill="#cccc11"/>
<polygon points="378.36,467.60 380.95,471.24 385.21,472.58 382.54,476.16 382.59,480.62 378.36,479.20 374.13,480.62 374.17,476.16 371.51,472.58 375.77,471.24" fill="#8b6914"/><circle cx="378.36" cy="474.80" r="4.3" fill="#cccc11"/>
<polygon points="454.84,467.60 457.43,471.24 461.69,472.58 459.03,476.16 459.07,480.62 454.84,479.20 450.61,480.62 450.66,476.16 447.99,472.58 452.26,471.24" fill="#8b6914"/><circle cx="454.84" cy="474.80" r="4.3" fill="#cccc11"/>
<polygon points="531.32,467.60 533.91,471.24 538.17,472.58 535.51,476.16 535.56,480.62 531.32,479.20 527.09,480.62 527.14,476.16 524.48,472.58 528.74,471.24" fill="#8b6914"/><circle cx="531.32" cy="474.80" r="4.3" fill="#cccc11"/>
<polygon points="607.81,467.60 610.39,471.24 614.66,472.58 611.99,476.16 612.04,480.62 607.81,479.20 603.58,480.62 603.62,476.16 600.96,472.58 605.22,471.24" fill="#8b6914"/><circle cx="607.81" cy="474.80" r="4.3" fill="#cccc11"/>
<polygon points="684.29,467.60 686.88,471.24 691.14,472.58 688.48,476.16 688.52,480.62 684.29,479.20 680.06,480.62 680.11,476.16 677.44,472.58 681.70,471.24" fill="#8b6914"/><circle cx="684.29" cy="474.80" r="4.3" fill="#cccc11"/>
<polygon points="41.65,481.00 44.24,484.64 48.50,485.98 45.84,489.56 45.89,494.02 41.65,492.60 37.42,494.02 37.47,489.56 34.81,485.98 39.07,484.64" fill="#8b6a22"/>
<polygon points="118.24,481.00 120.83,484.64 125.09,485.98 122.43,489.56 122.48,494.02 118.24,492.60 114.01,494.02 114.06,489.56 111.40,485.98 115.66,484.64" fill="#8b6a22"/>
<polygon points="194.83,481.00 197.42,484.64 201.68,485.98 199.02,489.56 199.06,494.02 194.83,492.60 190.60,494.02 190.65,489.56 187.98,485.98 192.25,484.64" fill="#8b6a22"/>
<polygon points="271.42,481.00 274.01,484.64 278.27,485.98 275.61,489.56 275.65,494.02 271.42,492.60 267.19,494.02 267.24,489.56 264.57,485.98 268.84,484.64" fill="#8b6a22"/>
<polygon points="348.06,481.00 350.65,484.64 354.91,485.98 352.25,489.56 352.30,494.02 348.06,492.60 343.83,494.02 343.88,489.56 341.22,485.98 345.48,484.64" fill="#8b6a22"/>
<polygon points="424.65,481.00 427.24,484.64 431.50,485.98 428.84,489.56 428.88,494.02 424.65,492.60 420.42,494.02 420.47,489.56 417.81,485.98 422.07,484.64" fill="#8b6a22"/>
<polygon points="501.24,481.00 503.83,484.64 508.09,485.98 505.43,489.56 505.47,494.02 501.24,492.60 497.01,494.02 497.06,489.56 494.39,485.98 498.66,484.64" fill="#8b6a22"/>
<polygon points="577.83,481.00 580.42,484.64 584.68,485.98 582.02,489.56 582.06,494.02 577.83,492.60 573.60,494.02 573.65,489.56 570.98,485.98 575.24,484.64" fill="#8b6a22"/>
<polygon points="654.47,481.00 657.06,484.64 661.32,485.98 658.66,489.56 658.71,494.02 654.47,492.60 650.24,494.02 650.29,489.56 647.63,485.98 651.89,484.64" fill="#8b6a22"/>
<circle cx="104.58" cy="501.90" r="4.9" fill="#ffffc8" stroke="#8a8a60" stroke-width="0.8"/>
<circle cx="184.95" cy="501.90" r="4.9" fill="#ffffc8" stroke="#8a8a60" stroke-width="0.8"/>
<circle cx="265.42" cy="501.90" r="4.9" fill="#ffffc8" stroke="#8a8a60" stroke-width="0.8"/>
<circle cx="345.99" cy="501.90" r="4.9" fill="#ffffc8" stroke="#8a8a60" stroke-width="0.8"/>
<circle cx="426.46" cy="501.90" r="4.9" fill="#ffffc8" stroke="#8a8a60" stroke-width="0.8"/>
<circle cx="506.72" cy="501.90" r="4.9" fill="#ffffc8" stroke="#8a8a60" stroke-width="0.8"/>
<circle cx="586.65" cy="501.90" r="4.9" fill="#ffffc8" stroke="#8a8a60" stroke-width="0.8"/>
<circle cx="666.17" cy="501.90" r="4.9" fill="#ffffc8" stroke="#8a8a60" stroke-width="0.8"/>
<circle cx="65.84" cy="515.40" r="4.9" fill="#c5bfb3" stroke="#6a6a55" stroke-width="0.8"/>
<circle cx="144.23" cy="515.40" r="4.9" fill="#c5bfb3" stroke="#6a6a55" stroke-width="0.8"/>
<circle cx="222.74" cy="515.40" r="4.9" fill="#c5bfb3" stroke="#6a6a55" stroke-width="0.8"/>
<circle cx="301.34" cy="515.40" r="4.9" fill="#c5bfb3" stroke="#6a6a55" stroke-width="0.8"/>
<circle cx="380.22" cy="515.40" r="4.9" fill="#c5bfb3" stroke="#6a6a55" stroke-width="0.8"/>
<circle cx="459.36" cy="515.40" r="4.9" fill="#c5bfb3" stroke="#6a6a55" stroke-width="0.8"/>
<circle cx="538.82" cy="515.40" r="4.9" fill="#c5bfb3" stroke="#6a6a55" stroke-width="0.8"/>
<circle cx="618.54" cy="515.40" r="4.9" fill="#c5bfb3" stroke="#6a6a55" stroke-width="0.8"/>
<text x="396.10" y="13.20" font-size="16.74" text-anchor="middle" fill="#111">Blue Duck Stream: at low&#160; spring tide at –0.0m (–0.1ft)</text>
<text x="396.40" y="27.70" font-size="10.98" text-anchor="middle" fill="#000" font-weight="bold">Image captured 32 minutes before low water. Times are NZDT (UTC +13.0hrs)</text>
<text x="92.07" y="39.60" font-size="10.67" text-anchor="middle" fill="#ff1414">Fri</text>
<text x="91.97" y="51.80" font-size="10.67" text-anchor="middle" fill="#ff1414" letter-spacing="0.33">11–Nov</text>
<text x="168.60" y="39.60" font-size="10.67" text-anchor="middle" fill="#ff1414">Sat</text>
<text x="168.50" y="51.80" font-size="10.67" text-anchor="middle" fill="#ff1414" letter-spacing="0.33">12–Nov</text>
<text x="245.14" y="39.60" font-size="10.67" text-anchor="middle" fill="#ff1414">Sun</text>
<text x="245.04" y="51.80" font-size="10.67" text-anchor="middle" fill="#ff1414" letter-spacing="0.33">13–Nov</text>
<text x="321.68" y="39.60" font-size="10.67" text-anchor="middle" fill="#ff1414">Mon</text>
<text x="321.58" y="51.80" font-size="10.67" text-anchor="middle" fill="#ff1414" letter-spacing="0.33">14–Nov</text>
<text x="398.21" y="39.60" font-size="10.67" text-anchor="middle" fill="#ff1414">Tue</text>
<text x="398.11" y="51.80" font-size="10.67" text-anchor="middle" fill="#ff1414" letter-spacing="0.33">15–Nov</text>
<text x="474.75" y="39.60" font-size="10.67" text-anchor="middle" fill="#ff1414">Wed</text>
<text x="474.65" y="51.80" font-size="10.67" text-anchor="middle" fill="#ff1414" letter-spacing="0.33">16–Nov</text>
<text x="551.28" y="39.60" font-size="10.67" text-anchor="middle" fill="#ff1414">Thu</text>
<text x="551.18" y="51.80" font-size="10.67" text-anchor="middle" fill="#ff1414" letter-spacing="0.33">17–Nov</text>
<text x="627.82" y="39.60" font-size="10.67" text-anchor="middle" fill="#ff1414">Fri</text>
<text x="627.72" y="51.80" font-size="10.67" text-anchor="middle" fill="#ff1414" letter-spacing="0.33">18–Nov</text>
<text x="704.36" y="39.60" font-size="10.67" text-anchor="middle" fill="#ff1414">Sat</text>
<text x="704.26" y="51.80" font-size="10.67" text-anchor="middle" fill="#ff1414" letter-spacing="0.33">19–Nov</text>
<text x="99.37" y="117.22" font-size="9.5" text-anchor="middle" fill="#111" stroke="#111" stroke-width="0.25">2:25 pm</text>
<text x="99.37" y="125.72" font-size="9.5" text-anchor="middle" fill="#111" stroke="#111" stroke-width="0.25">4.8 ft</text>
<text x="99.37" y="135.62" font-size="9.5" text-anchor="middle" fill="#111" stroke="#111" stroke-width="0.25">1.46 m</text>
<text x="139.18" y="120.98" font-size="9.5" text-anchor="middle" fill="#111" stroke="#111" stroke-width="0.25">2:54 am</text>
<text x="139.18" y="129.48" font-size="9.5" text-anchor="middle" fill="#111" stroke="#111" stroke-width="0.25">4.7 ft</text>
<text x="139.18" y="139.38" font-size="9.5" text-anchor="middle" fill="#111" stroke="#111" stroke-width="0.25">1.44 m</text>
<text x="178.89" y="109.70" font-size="9.5" text-anchor="middle" fill="#111" stroke="#111" stroke-width="0.25">3:21 pm</text>
<text x="178.89" y="118.20" font-size="9.5" text-anchor="middle" fill="#111" stroke="#111" stroke-width="0.25">4.9 ft</text>
<text x="178.89" y="128.10" font-size="9.5" text-anchor="middle" fill="#111" stroke="#111" stroke-width="0.25">1.50 m</text>
<text x="218.75" y="107.82" font-size="9.5" text-anchor="middle" fill="#111" stroke="#111" stroke-width="0.25">3:51 am</text>
<text x="218.75" y="116.32" font-size="9.5" text-anchor="middle" fill="#111" stroke="#111" stroke-width="0.25">5.0 ft</text>
<text x="218.75" y="126.22" font-size="9.5" text-anchor="middle" fill="#111" stroke="#111" stroke-width="0.25">1.51 m</text>
<text x="258.45" y="104.06" font-size="9.5" text-anchor="middle" fill="#111" stroke="#111" stroke-width="0.25">4:18 pm</text>
<text x="258.45" y="112.56" font-size="9.5" text-anchor="middle" fill="#111" stroke="#111" stroke-width="0.25">5.0 ft</text>
<text x="258.45" y="122.46" font-size="9.5" text-anchor="middle" fill="#111" stroke="#111" stroke-width="0.25">1.53 m</text>
<text x="298.37" y="92.78" font-size="9.5" text-anchor="middle" fill="#111" stroke="#111" stroke-width="0.25">4:49 am</text>
<text x="298.37" y="101.28" font-size="9.5" text-anchor="middle" fill="#111" stroke="#111" stroke-width="0.25">5.2 ft</text>
<text x="298.37" y="111.18" font-size="9.5" text-anchor="middle" fill="#111" stroke="#111" stroke-width="0.25">1.59 m</text>
<text x="338.02" y="98.42" font-size="9.5" text-anchor="middle" fill="#111" stroke="#111" stroke-width="0.25">5:15 pm</text>
<text x="338.02" y="106.92" font-size="9.5" text-anchor="middle" fill="#111" stroke="#111" stroke-width="0.25">5.1 ft</text>
<text x="338.02" y="116.82" font-size="9.5" text-anchor="middle" fill="#111" stroke="#111" stroke-width="0.25">1.56 m</text>
<text x="377.93" y="81.50" font-size="9.5" text-anchor="middle" fill="#111" stroke="#111" stroke-width="0.25">5:46 am</text>
<text x="377.93" y="90.00" font-size="9.5" text-anchor="middle" fill="#111" stroke="#111" stroke-width="0.25">5.4 ft</text>
<text x="377.93" y="99.90" font-size="9.5" text-anchor="middle" fill="#111" stroke="#111" stroke-width="0.25">1.65 m</text>
<text x="417.64" y="96.54" font-size="9.5" text-anchor="middle" fill="#111" stroke="#111" stroke-width="0.25">6:13 pm</text>
<text x="417.64" y="105.04" font-size="9.5" text-anchor="middle" fill="#111" stroke="#111" stroke-width="0.25">5.2 ft</text>
<text x="417.64" y="114.94" font-size="9.5" text-anchor="middle" fill="#111" stroke="#111" stroke-width="0.25">1.57 m</text>
<text x="457.61" y="72.10" font-size="9.5" text-anchor="middle" fill="#111" stroke="#111" stroke-width="0.25">6:45 am</text>
<text x="457.61" y="80.60" font-size="9.5" text-anchor="middle" fill="#111" stroke="#111" stroke-width="0.25">5.6 ft</text>
<text x="457.61" y="90.50" font-size="9.5" text-anchor="middle" fill="#111" stroke="#111" stroke-width="0.25">1.70 m</text>
<text x="497.36" y="94.66" font-size="9.5" text-anchor="middle" fill="#111" stroke="#111" stroke-width="0.25">7:13 pm</text>
<text x="497.36" y="103.16" font-size="9.5" text-anchor="middle" fill="#111" stroke="#111" stroke-width="0.25">5.2 ft</text>
<text x="497.36" y="113.06" font-size="9.5" text-anchor="middle" fill="#111" stroke="#111" stroke-width="0.25">1.58 m</text>
<text x="537.22" y="68.34" font-size="9.5" text-anchor="middle" fill="#111" stroke="#111" stroke-width="0.25">7:43 am</text>
<text x="537.22" y="76.84" font-size="9.5" text-anchor="middle" fill="#111" stroke="#111" stroke-width="0.25">5.6 ft</text>
<text x="537.22" y="86.74" font-size="9.5" text-anchor="middle" fill="#111" stroke="#111" stroke-width="0.25">1.72 m</text>
<text x="577.03" y="96.54" font-size="9.5" text-anchor="middle" fill="#111" stroke="#111" stroke-width="0.25">8:12 pm</text>
<text x="577.03" y="105.04" font-size="9.5" text-anchor="middle" fill="#111" stroke="#111" stroke-width="0.25">5.2 ft</text>
<text x="577.03" y="114.94" font-size="9.5" text-anchor="middle" fill="#111" stroke="#111" stroke-width="0.25">1.57 m</text>
<text x="616.79" y="68.34" font-size="9.5" text-anchor="middle" fill="#111" stroke="#111" stroke-width="0.25">8:40 am</text>
<text x="616.79" y="76.84" font-size="9.5" text-anchor="middle" fill="#111" stroke="#111" stroke-width="0.25">5.6 ft</text>
<text x="616.79" y="86.74" font-size="9.5" text-anchor="middle" fill="#111" stroke="#111" stroke-width="0.25">1.72 m</text>
<text x="656.60" y="100.30" font-size="9.5" text-anchor="middle" fill="#111" stroke="#111" stroke-width="0.25">9:09 pm</text>
<text x="656.60" y="108.80" font-size="9.5" text-anchor="middle" fill="#111" stroke="#111" stroke-width="0.25">5.1 ft</text>
<text x="656.60" y="118.70" font-size="9.5" text-anchor="middle" fill="#111" stroke="#111" stroke-width="0.25">1.55 m</text>
<text x="696.41" y="72.10" font-size="9.5" text-anchor="middle" fill="#111" stroke="#111" stroke-width="0.25">9:38 am</text>
<text x="696.41" y="80.60" font-size="9.5" text-anchor="middle" fill="#111" stroke="#111" stroke-width="0.25">5.6 ft</text>
<text x="696.41" y="90.50" font-size="9.5" text-anchor="middle" fill="#111" stroke="#111" stroke-width="0.25">1.70 m</text>
<text x="119.41" y="405.40" font-size="9.5" text-anchor="middle" fill="#111" stroke="#111" stroke-width="0.25">0.10 m</text>
<text x="119.41" y="415.50" font-size="9.5" text-anchor="middle" fill="#111" stroke="#111" stroke-width="0.25">0.3 ft</text>
<text x="119.41" y="424.65" font-size="9.5" text-anchor="middle" fill="#111" stroke="#111" stroke-width="0.25">8:42 pm</text>
<text x="159.01" y="405.40" font-size="9.5" text-anchor="middle" fill="#111" stroke="#111" stroke-width="0.25">0.10 m</text>
<text x="159.01" y="415.50" font-size="9.5" text-anchor="middle" fill="#111" stroke="#111" stroke-width="0.25">0.3 ft</text>
<text x="159.01" y="424.65" font-size="9.5" text-anchor="middle" fill="#111" stroke="#111" stroke-width="0.25">9:07 am</text>
<text x="198.82" y="414.80" font-size="9.5" text-anchor="middle" fill="#111" stroke="#111" stroke-width="0.25">0.05 m</text>
<text x="198.82" y="424.90" font-size="9.5" text-anchor="middle" fill="#111" stroke="#111" stroke-width="0.25">0.2 ft</text>
<text x="198.82" y="434.05" font-size="9.5" text-anchor="middle" fill="#111" stroke="#111" stroke-width="0.25">9:36 pm</text>
<text x="238.63" y="416.68" font-size="9.5" text-anchor="middle" fill="#111" stroke="#111" stroke-width="0.25">0.04 m</text>
<text x="238.63" y="426.78" font-size="9.5" text-anchor="middle" fill="#111" stroke="#111" stroke-width="0.25">0.1 ft</text>
<text x="238.63" y="435.93" font-size="9.5" text-anchor="middle" fill="#111" stroke="#111" stroke-width="0.25">10:05 am</text>
<text x="278.33" y="424.20" font-size="9.5" text-anchor="middle" fill="#111" stroke="#111" stroke-width="0.25">–0.00 m</text>
<text x="278.33" y="434.30" font-size="9.5" text-anchor="middle" fill="#111" stroke="#111" stroke-width="0.25">–0.0 ft</text>
<text x="278.33" y="443.45" font-size="9.5" text-anchor="middle" fill="#111" stroke="#111" stroke-width="0.25">10:32 pm</text>
<text x="318.30" y="426.08" font-size="9.5" text-anchor="middle" fill="#111" stroke="#111" stroke-width="0.25">–0.01 m</text>
<text x="318.30" y="436.18" font-size="9.5" text-anchor="middle" fill="#111" stroke="#111" stroke-width="0.25">–0.0 ft</text>
<text x="318.30" y="445.33" font-size="9.5" text-anchor="middle" fill="#111" stroke="#111" stroke-width="0.25">11:04 am</text>
<text x="357.84" y="431.72" font-size="9.5" text-anchor="middle" fill="#111" stroke="#111" stroke-width="0.25">–0.04 m</text>
<text x="357.84" y="441.82" font-size="9.5" text-anchor="middle" fill="#111" stroke="#111" stroke-width="0.25">–0.1 ft</text>
<text x="357.84" y="450.97" font-size="9.5" text-anchor="middle" fill="#111" stroke="#111" stroke-width="0.25">11:28 pm</text>
<text x="398.02" y="433.60" font-size="9.5" text-anchor="middle" fill="#111" stroke="#111" stroke-width="0.25">–0.05 m</text>
<text x="398.02" y="443.70" font-size="9.5" text-anchor="middle" fill="#111" stroke="#111" stroke-width="0.25">–0.2 ft</text>
<text x="398.02" y="452.85" font-size="9.5" text-anchor="middle" fill="#111" stroke="#111" stroke-width="0.25">12:04 pm</text>
<text x="437.46" y="439.24" font-size="9.5" text-anchor="middle" fill="#111" stroke="#111" stroke-width="0.25">–0.08 m</text>
<text x="437.46" y="449.34" font-size="9.5" text-anchor="middle" fill="#111" stroke="#111" stroke-width="0.25">–0.3 ft</text>
<text x="437.46" y="458.49" font-size="9.5" text-anchor="middle" fill="#111" stroke="#111" stroke-width="0.25">12:26 am</text>
<text x="477.70" y="439.24" font-size="9.5" text-anchor="middle" fill="#111" stroke="#111" stroke-width="0.25">–0.08 m</text>
<text x="477.70" y="449.34" font-size="9.5" text-anchor="middle" fill="#111" stroke="#111" stroke-width="0.25">–0.3 ft</text>
<text x="477.70" y="458.49" font-size="9.5" text-anchor="middle" fill="#111" stroke="#111" stroke-width="0.25">1:03 pm</text>
<text x="516.97" y="441.12" font-size="9.5" text-anchor="middle" fill="#111" stroke="#111" stroke-width="0.25">–0.09 m</text>
<text x="516.97" y="451.22" font-size="9.5" text-anchor="middle" fill="#111" stroke="#111" stroke-width="0.25">–0.3 ft</text>
<text x="516.97" y="460.37" font-size="9.5" text-anchor="middle" fill="#111" stroke="#111" stroke-width="0.25">1:22 am</text>
<text x="557.37" y="441.12" font-size="9.5" text-anchor="middle" fill="#111" stroke="#111" stroke-width="0.25">–0.09 m</text>
<text x="557.37" y="451.22" font-size="9.5" text-anchor="middle" fill="#111" stroke="#111" stroke-width="0.25">–0.3 ft</text>
<text x="557.37" y="460.37" font-size="9.5" text-anchor="middle" fill="#111" stroke="#111" stroke-width="0.25">2:02 pm</text>
<text x="596.65" y="441.12" font-size="9.5" text-anchor="middle" fill="#111" stroke="#111" stroke-width="0.25">–0.09 m</text>
<text x="596.65" y="451.22" font-size="9.5" text-anchor="middle" fill="#111" stroke="#111" stroke-width="0.25">–0.3 ft</text>
<text x="596.65" y="460.37" font-size="9.5" text-anchor="middle" fill="#111" stroke="#111" stroke-width="0.25">2:21 am</text>
<text x="636.99" y="439.24" font-size="9.5" text-anchor="middle" fill="#111" stroke="#111" stroke-width="0.25">–0.08 m</text>
<text x="636.99" y="449.34" font-size="9.5" text-anchor="middle" fill="#111" stroke="#111" stroke-width="0.25">–0.3 ft</text>
<text x="636.99" y="458.49" font-size="9.5" text-anchor="middle" fill="#111" stroke="#111" stroke-width="0.25">3:00 pm</text>
<text x="676.21" y="435.48" font-size="9.5" text-anchor="middle" fill="#111" stroke="#111" stroke-width="0.25">–0.06 m</text>
<text x="676.21" y="445.58" font-size="9.5" text-anchor="middle" fill="#111" stroke="#111" stroke-width="0.25">–0.2 ft</text>
<text x="676.21" y="454.73" font-size="9.5" text-anchor="middle" fill="#111" stroke="#111" stroke-width="0.25">3:18 am</text>
<text x="35.40" y="417.00" font-size="12" text-anchor="end" fill="#111">0.0 m</text>
<text x="35.40" y="323.00" font-size="12" text-anchor="end" fill="#111">0.5 m</text>
<text x="35.40" y="229.00" font-size="12" text-anchor="end" fill="#111">1.0 m</text>
<text x="35.40" y="135.00" font-size="12" text-anchor="end" fill="#111">1.5 m</text>
<text x="757.30" y="416.60" font-size="12" text-anchor="start" fill="#111">0 ft</text>
<text x="757.30" y="358.97" font-size="12" text-anchor="start" fill="#111">1 ft</text>
<text x="757.30" y="301.34" font-size="12" text-anchor="start" fill="#111">2 ft</text>
<text x="757.30" y="243.71" font-size="12" text-anchor="start" fill="#111">3 ft</text>
<text x="757.30" y="186.08" font-size="12" text-anchor="start" fill="#111">4 ft</text>
<text x="757.30" y="128.45" font-size="12" text-anchor="start" fill="#111">5 ft</text>
<text x="757.30" y="70.82" font-size="12" text-anchor="start" fill="#111">6 ft</text>
<text x="79.73" y="478.00" font-size="9.5" text-anchor="start" fill="#222" stroke="#222" stroke-width="0.12">5:58am</text>
<text x="156.16" y="478.00" font-size="9.5" text-anchor="start" fill="#222" stroke="#222" stroke-width="0.12">5:56am</text>
<text x="232.64" y="478.00" font-size="9.5" text-anchor="start" fill="#222" stroke="#222" stroke-width="0.12">5:55am</text>
<text x="309.18" y="478.00" font-size="9.5" text-anchor="start" fill="#222" stroke="#222" stroke-width="0.12">5:55am</text>
<text x="385.66" y="478.00" font-size="9.5" text-anchor="start" fill="#222" stroke="#222" stroke-width="0.12">5:54am</text>
<text x="462.14" y="478.00" font-size="9.5" text-anchor="start" fill="#222" stroke="#222" stroke-width="0.12">5:53am</text>
<text x="538.62" y="478.00" font-size="9.5" text-anchor="start" fill="#222" stroke="#222" stroke-width="0.12">5:52am</text>
<text x="615.11" y="478.00" font-size="9.5" text-anchor="start" fill="#222" stroke="#222" stroke-width="0.12">5:51am</text>
<text x="691.59" y="478.00" font-size="9.5" text-anchor="start" fill="#222" stroke="#222" stroke-width="0.12">5:50am</text>
<text x="48.25" y="493.00" font-size="9.5" text-anchor="start" fill="#222" stroke="#222" stroke-width="0.12">8:19pm</text>
<text x="124.84" y="493.00" font-size="9.5" text-anchor="start" fill="#222" stroke="#222" stroke-width="0.12">8:20pm</text>
<text x="201.43" y="493.00" font-size="9.5" text-anchor="start" fill="#222" stroke="#222" stroke-width="0.12">8:21pm</text>
<text x="278.02" y="493.00" font-size="9.5" text-anchor="start" fill="#222" stroke="#222" stroke-width="0.12">8:22pm</text>
<text x="354.66" y="493.00" font-size="9.5" text-anchor="start" fill="#222" stroke="#222" stroke-width="0.12">8:24pm</text>
<text x="431.25" y="493.00" font-size="9.5" text-anchor="start" fill="#222" stroke="#222" stroke-width="0.12">8:25pm</text>
<text x="507.84" y="493.00" font-size="9.5" text-anchor="start" fill="#222" stroke="#222" stroke-width="0.12">8:26pm</text>
<text x="584.43" y="493.00" font-size="9.5" text-anchor="start" fill="#222" stroke="#222" stroke-width="0.12">8:27pm</text>
<text x="661.07" y="493.00" font-size="9.5" text-anchor="start" fill="#222" stroke="#222" stroke-width="0.12">8:29pm</text>
<text x="111.08" y="506.00" font-size="9.5" text-anchor="start" fill="#222" stroke="#222" stroke-width="0.12">4:03pm</text>
<text x="191.45" y="506.00" font-size="9.5" text-anchor="start" fill="#222" stroke="#222" stroke-width="0.12">5:15pm</text>
<text x="271.92" y="506.00" font-size="9.5" text-anchor="start" fill="#222" stroke="#222" stroke-width="0.12">6:29pm</text>
<text x="352.49" y="506.00" font-size="9.5" text-anchor="start" fill="#222" stroke="#222" stroke-width="0.12">7:45pm</text>
<text x="432.96" y="506.00" font-size="9.5" text-anchor="start" fill="#222" stroke="#222" stroke-width="0.12">8:59pm</text>
<text x="513.22" y="506.00" font-size="9.5" text-anchor="start" fill="#222" stroke="#222" stroke-width="0.12">10:09pm</text>
<text x="593.15" y="506.00" font-size="9.5" text-anchor="start" fill="#222" stroke="#222" stroke-width="0.12">11:13pm</text>
<text x="672.67" y="506.00" font-size="9.5" text-anchor="start" fill="#222" stroke="#222" stroke-width="0.12">12:09am</text>
<text x="72.34" y="519.00" font-size="9.5" text-anchor="start" fill="#222" stroke="#222" stroke-width="0.12">3:54am</text>
<text x="150.73" y="519.00" font-size="9.5" text-anchor="start" fill="#222" stroke="#222" stroke-width="0.12">4:29am</text>
<text x="229.24" y="519.00" font-size="9.5" text-anchor="start" fill="#222" stroke="#222" stroke-width="0.12">5:06am</text>
<text x="307.84" y="519.00" font-size="9.5" text-anchor="start" fill="#222" stroke="#222" stroke-width="0.12">5:45am</text>
<text x="386.72" y="519.00" font-size="9.5" text-anchor="start" fill="#222" stroke="#222" stroke-width="0.12">6:29am</text>
<text x="465.86" y="519.00" font-size="9.5" text-anchor="start" fill="#222" stroke="#222" stroke-width="0.12">7:18am</text>
<text x="545.32" y="519.00" font-size="9.5" text-anchor="start" fill="#222" stroke="#222" stroke-width="0.12">8:13am</text>
<text x="625.04" y="519.00" font-size="9.5" text-anchor="start" fill="#222" stroke="#222" stroke-width="0.12">9:13am</text>
<text x="323.60" y="532.50" font-size="9.3" text-anchor="start" fill="#222" stroke="#222" stroke-width="0.12">Full Moon | 2:52am</text>
</svg>
</body></html>
